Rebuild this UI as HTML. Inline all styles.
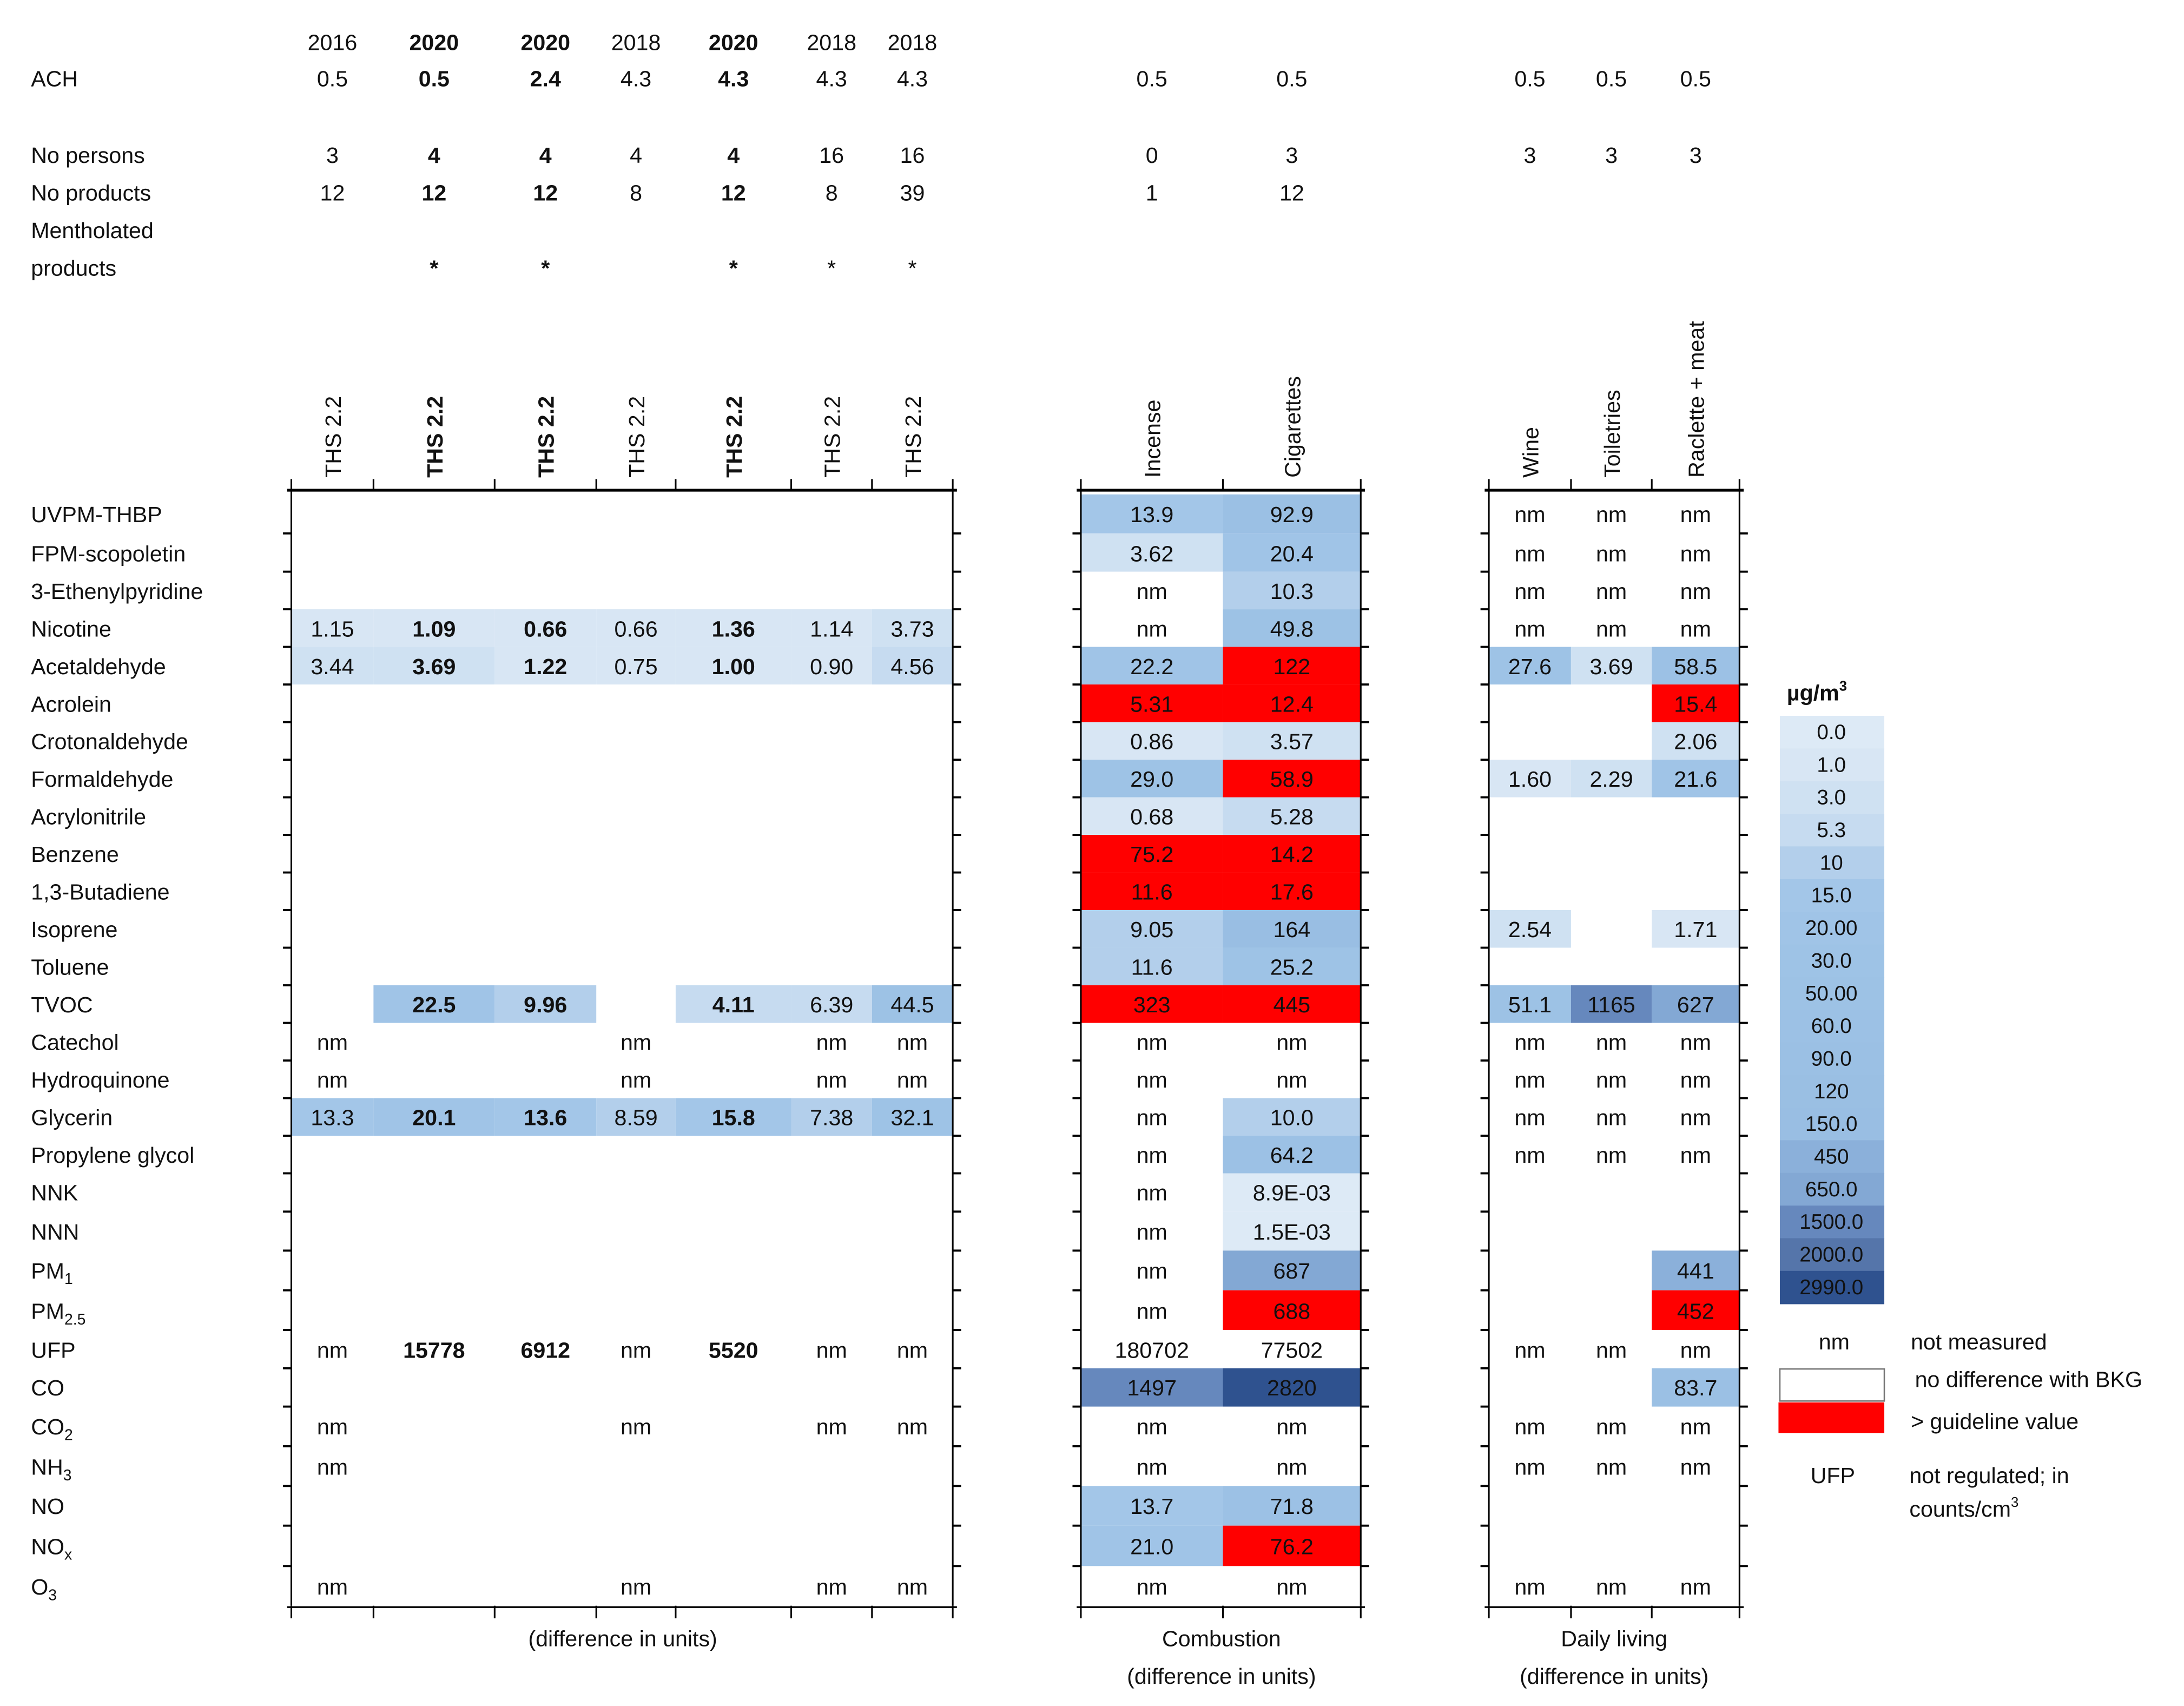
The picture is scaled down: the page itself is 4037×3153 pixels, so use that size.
<!DOCTYPE html>
<html><head><meta charset="utf-8">
<style>
html,body{margin:0;padding:0;background:#fff;}
svg{display:block;}
text{font-family:"Liberation Sans",sans-serif;fill:#111;}
</style></head>
<body>
<svg id="chart" width="4037" height="3153" viewBox="0 0 1568 1225" xmlns="http://www.w3.org/2000/svg"></svg>
<script>
// ---------- data ----------
const rowLabels = ["UVPM-THBP","FPM-scopoletin","3-Ethenylpyridine","Nicotine","Acetaldehyde","Acrolein","Crotonaldehyde","Formaldehyde","Acrylonitrile","Benzene","1,3-Butadiene","Isoprene","Toluene","TVOC","Catechol","Hydroquinone","Glycerin","Propylene glycol","NNK","NNN","PM|1","PM|2.5","UFP","CO","CO|2","NH|3","NO","NO|x","O|3"];
const g1Years = ["2016","2020","2020","2018","2020","2018","2018"];
const g1Ach = ["0.5","0.5","2.4","4.3","4.3","4.3","4.3"];
const g1Persons = ["3","4","4","4","4","16","16"];
const g1Products = ["12","12","12","8","12","8","39"];
const g1Menthol = ["","*","*","","*","*","*"];
const g1Bold = [false,true,true,false,true,false,false];
const g1Names = ["THS 2.2","THS 2.2","THS 2.2","THS 2.2","THS 2.2","THS 2.2","THS 2.2"];
const g1Values = [
 ["","","","","","",""],["","","","","","",""],["","","","","","",""],
 ["1.15","1.09","0.66","0.66","1.36","1.14","3.73"],
 ["3.44","3.69","1.22","0.75","1.00","0.90","4.56"],
 ["","","","","","",""],["","","","","","",""],["","","","","","",""],["","","","","","",""],
 ["","","","","","",""],["","","","","","",""],["","","","","","",""],["","","","","","",""],
 ["","22.5","9.96","","4.11","6.39","44.5"],
 ["nm","","","nm","","nm","nm"],["nm","","","nm","","nm","nm"],
 ["13.3","20.1","13.6","8.59","15.8","7.38","32.1"],
 ["","","","","","",""],["","","","","","",""],["","","","","","",""],["","","","","","",""],["","","","","","",""],
 ["nm","15778","6912","nm","5520","nm","nm"],
 ["","","","","","",""],
 ["nm","","","nm","","nm","nm"],["nm","","","","","",""],
 ["","","","","","",""],["","","","","","",""],
 ["nm","","","nm","","nm","nm"]];
const g2Names = ["Incense","Cigarettes"];
const g2Ach = ["0.5","0.5"], g2Persons=["0","3"], g2Products=["1","12"];
const g2Values = [["13.9","92.9"],["3.62","20.4"],["nm","10.3"],["nm","49.8"],["22.2","122"],["5.31","12.4"],["0.86","3.57"],["29.0","58.9"],["0.68","5.28"],["75.2","14.2"],["11.6","17.6"],["9.05","164"],["11.6","25.2"],["323","445"],["nm","nm"],["nm","nm"],["nm","10.0"],["nm","64.2"],["nm","8.9E-03"],["nm","1.5E-03"],["nm","687"],["nm","688"],["180702","77502"],["1497","2820"],["nm","nm"],["nm","nm"],["13.7","71.8"],["21.0","76.2"],["nm","nm"]];
const g2Red = [[0,0],[0,0],[0,0],[0,0],[0,1],[1,1],[0,0],[0,1],[0,0],[1,1],[1,1],[0,0],[0,0],[1,1],[0,0],[0,0],[0,0],[0,0],[0,0],[0,0],[0,0],[0,1],[0,0],[0,0],[0,0],[0,0],[0,0],[0,1],[0,0]];
const g3Names = ["Wine","Toiletries","Raclette + meat"];
const g3Ach = ["0.5","0.5","0.5"], g3Persons=["3","3","3"];
const g3Values = [["nm","nm","nm"],["nm","nm","nm"],["nm","nm","nm"],["nm","nm","nm"],["27.6","3.69","58.5"],["","","15.4"],["","","2.06"],["1.60","2.29","21.6"],["","",""],["","",""],["","",""],["2.54","","1.71"],["","",""],["51.1","1165","627"],["nm","nm","nm"],["nm","nm","nm"],["nm","nm","nm"],["nm","nm","nm"],["","",""],["","",""],["","","441"],["","","452"],["nm","nm","nm"],["","","83.7"],["nm","nm","nm"],["nm","nm","nm"],["","",""],["","",""],["nm","nm","nm"]];
const g3Red = rowLabels.map((r,i)=> (i===5||i===21)?[0,0,1]:[0,0,0]);
const legendLabels = ["0.0","1.0","3.0","5.3","10","15.0","20.00","30.0","50.00","60.0","90.0","120","150.0","450","650.0","1500.0","2000.0","2990.0"];
const legendValues = [0,1,3,5.3,10,15,20,30,50,60,90,120,150,450,650,1500,2000,2990];
const legendColors = ["#ddeaf6","#d8e6f4","#cfe1f2","#c6dbf0","#b3cfeb","#a3c6e8","#a0c4e7","#9ec3e6","#9dc2e5","#9cc1e5","#9bc0e4","#9abfe3","#99bee3","#8bb0da","#83a8d4","#6688bd","#5575aa","#2f528f"];

// ---------- layout ----------
const NS="http://www.w3.org/2000/svg";
const svg=document.getElementById('chart');
const rowCenters=[369,397,424,451,478,505,532,559,586,613,640,667,694,721,748,775,802,829,856,884,912,941,969,996,1024,1053,1081,1110,1139];
const rowBounds=[355];
for(let i=1;i<rowCenters.length;i++)rowBounds.push((rowCenters[i-1]+rowCenters[i])/2);
rowBounds.push(1153);
const yRow = i => rowBounds[i];
const hRow = i => rowBounds[i+1]-rowBounds[i];
const groups = [
 {name:'ths', bounds:[209,268,355,428,485,568,626,684], values:g1Values, red:null, bold:g1Bold, names:g1Names},
 {name:'combustion', bounds:[776,878,977], values:g2Values, red:g2Red, bold:[false,false], names:g2Names},
 {name:'daily-living', bounds:[1069,1128,1186,1249], values:g3Values, red:g3Red, bold:[false,false,false], names:g3Names}
];
function mk(tag,attrs,parent){const e=document.createElementNS(NS,tag);for(const k in attrs)e.setAttribute(k,attrs[k]);(parent||svg).appendChild(e);return e;}
function txt(x,y,s,opts,parent){opts=opts||{};const t=mk('text',{x:x,y:y,'font-size':opts.size||16,'text-anchor':opts.anchor||'start','font-weight':opts.bold?'bold':'normal'},parent);
 if(s.indexOf('|')>=0){const p=s.split('|');t.appendChild(document.createTextNode(p[0]));const ts=mk('tspan',{'font-size':11,dy:4},t);ts.textContent=p[1];}
 else t.textContent=s;
 if(opts.rot){t.setAttribute('transform','rotate(-90 '+x+' '+y+')');}
 return t;}
function colorFor(v){const n=parseFloat(v);if(isNaN(n))return null;
 const ln=Math.log(n+0.5);let best=0,bd=1e9;
 for(let i=0;i<legendValues.length;i++){const d=Math.abs(Math.log(legendValues[i]+0.5)-ln);if(d<bd){bd=d;best=i;}}
 return legendColors[best];}

// row labels
rowLabels.forEach((l,i)=>{const t=txt(22,rowCenters[i]+6,l);
 
 });

// header labels
[["ACH",56],["No persons",111],["No products",138],["Mentholated",165],["products",192]].forEach(h=>{const t=txt(22,h[1]+6,h[0]);
 
 });

function center(g,j){return (g.bounds[j]+g.bounds[j+1])/2;}
const G1=groups[0];
[[g1Years,30],[g1Ach,56],[g1Persons,111],[g1Products,138],[g1Menthol,192]].forEach(a=>{a[0].forEach((s,j)=>{if(!s)return;const t=txt(center(G1,j),a[1]+6,s,{anchor:'middle',bold:g1Bold[j]});
 
 });});
const G2=groups[1];
[[g2Ach,56],[g2Persons,111],[g2Products,138]].forEach(a=>{a[0].forEach((s,j)=>{const t=txt(center(G2,j),a[1]+6,s,{anchor:'middle'});
 
 });});
const G3=groups[2];
[[g3Ach,56],[g3Persons,111]].forEach(a=>{a[0].forEach((s,j)=>{const t=txt(center(G3,j),a[1]+6,s,{anchor:'middle'});
 
 });});

// cells and grid
const bottom = 1153;
groups.forEach(g=>{
 const gg=mk('g',{});
 
 
 g.names.forEach((n,j)=>{const t=txt(center(g,j)+6,343,n,{rot:true,bold:g.bold[j]},gg);
  
  });
 g.values.forEach((row,i)=>{row.forEach((v,j)=>{
  if(!v)return;
  const isRed = g.red && g.red[i][j];
  const isUfp = rowLabels[i]==="UFP";
  let fill = isRed ? '#ff0000' : (isUfp||v==='nm' ? null : colorFor(v));
  if(fill){const r=mk('rect',{x:g.bounds[j],y:yRow(i),width:g.bounds[j+1]-g.bounds[j],height:hRow(i),fill:fill},gg);
   
   }
  const t=txt(center(g,j),rowCenters[i]+6,v,{anchor:'middle',bold:g.bold[j]},gg);
  
  
 });});
 const L=g.bounds[0], R=g.bounds[g.bounds.length-1];
 mk('line',{x1:L-3,x2:R+3,y1:352,y2:352,stroke:'#000','stroke-width':2},gg);
 mk('line',{x1:L-3,x2:R+3,y1:bottom+1,y2:bottom+1,stroke:'#000','stroke-width':1.3},gg);
 g.bounds.forEach(b=>{mk('line',{x1:b,x2:b,y1:344,y2:352,stroke:'#000','stroke-width':1.2},gg);
  mk('line',{x1:b,x2:b,y1:bottom,y2:bottom+9,stroke:'#000','stroke-width':1.2},gg);});
 mk('line',{x1:L,x2:L,y1:352,y2:bottom,stroke:'#000','stroke-width':1.2},gg);
 mk('line',{x1:R,x2:R,y1:352,y2:bottom,stroke:'#000','stroke-width':1.2},gg);
 for(let i=1;i<rowCenters.length;i++){const y=yRow(i);
  mk('line',{x1:L-6,x2:L,y1:y,y2:y,stroke:'#000','stroke-width':1.5},gg);
  mk('line',{x1:R,x2:R+6,y1:y,y2:y,stroke:'#000','stroke-width':1.5},gg);}
});

// footers
[[447,1182,"(difference in units)"],[877,1182,"Combustion"],[877,1209,"(difference in units)"],[1159,1182,"Daily living"],[1159,1209,"(difference in units)"]].forEach(f=>{const t=txt(f[0],f[1],f[2],{anchor:'middle'});
 
 });

// legend
const lg=mk('g',{});


const lt=txt(1283,503,"µg/m",{bold:true},lg);
const sup=mk('tspan',{'font-size':10,dy:-7},lt);sup.textContent="3";
const lTop=514, lH=(936-514)/legendLabels.length;
legendLabels.forEach((l,i)=>{const r=mk('rect',{x:1278,y:lTop+i*lH,width:75,height:lH+0.5,fill:legendColors[i]},lg);
 
 
 const t=txt(1315,lTop+i*lH+lH/2+5,l,{anchor:'middle',size:15},lg);
 
 });
txt(1317,969,"nm",{anchor:'middle'},lg);
txt(1372,969,"not measured",{},lg);
mk('rect',{x:1278,y:983,width:75,height:23,fill:'#fff',stroke:'#777','stroke-width':1},lg);
txt(1375,996,"no difference with BKG",{},lg);
mk('rect',{x:1277,y:1007,width:76,height:22,fill:'#ff0000'},lg);
txt(1372,1026,"> guideline value",{},lg);
txt(1316,1065,"UFP",{anchor:'middle'},lg);
txt(1371,1065,"not regulated; in",{},lg);
const cu=txt(1371,1089,"counts/cm",{},lg);
const sup2=mk('tspan',{'font-size':10,dy:-7},cu);sup2.textContent="3";
</script>
</body></html>
